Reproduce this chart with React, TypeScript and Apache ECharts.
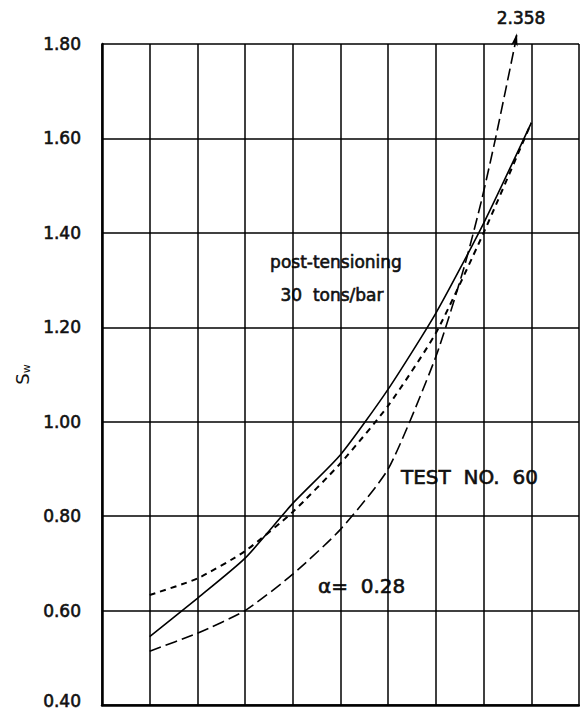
import React, { useEffect, useRef } from "react";
import * as echarts from "echarts";

const xPoints = [1, 2, 3, 4, 5, 6, 7, 8, 9];
const solidValues = [0.545, 0.626, 0.711, 0.827, 0.93, 1.069, 1.23, 1.42, 1.633];
const shortDashValues = [0.633, 0.668, 0.726, 0.809, 0.912, 1.034, 1.188, 1.4, 1.633];
const longDashX = [1, 2, 3, 4, 5, 6, 7, 7.6, 7.96, 8.26, 8.66, 8.7];
const longDashValues = [0.514, 0.552, 0.6, 0.677, 0.772, 0.9, 1.138, 1.33, 1.47, 1.605, 1.8, 1.823];
const yTicks = [0.4, 0.6, 0.8, 1.0, 1.2, 1.4, 1.6, 1.8];
const offChartValue = "2.358";

const FONT = "'DejaVu Sans', sans-serif";
const INK = "#111";

export default function App() {
  const ref = useRef<HTMLDivElement>(null);
  useEffect(() => {
    if (!ref.current) return;
    const chart = echarts.init(ref.current, null, { renderer: "svg" });
    const longData: any[] = longDashX.map((x, i) => [x, longDashValues[i]]);
    const last = longData.length - 1;
    longData[last] = {
      value: longData[last],
      symbol: "arrow",
      symbolSize: [5, 13],
      symbolRotate: -12,
    };
    const txt = (text: string, x: number, y: number, size: number, align = "center") => ({
      type: "text",
      x,
      y,
      style: {
        text,
        fontSize: size,
        fontFamily: FONT,
        fill: INK,
        stroke: INK,
        lineWidth: 0.6,
        align,
        verticalAlign: "middle",
      },
    });
    chart.setOption({
      animation: false,
      backgroundColor: "#ffffff",
      grid: { left: 102, top: 44, width: 477, height: 661 },
      xAxis: {
        type: "value",
        min: 0,
        max: 10,
        interval: 1,
        axisLine: { show: true, lineStyle: { color: "#000", width: 2.5 } },
        axisTick: { show: false },
        axisLabel: { show: false },
        splitLine: { show: true, lineStyle: { color: "#000", width: 1.5 } },
      },
      yAxis: {
        type: "value",
        min: yTicks[0],
        max: yTicks[yTicks.length - 1],
        interval: 0.2,
        axisLine: { show: true, lineStyle: { color: "#000", width: 2.5 } },
        axisTick: { show: false },
        axisLabel: {
          margin: 21,
          color: INK,
          fontSize: 17,
          fontFamily: FONT,
          textBorderColor: INK,
          textBorderWidth: 0.6,
          formatter: (v: number) =>
            Math.abs(v - yTicks[0]) < 1e-6 ? "{low|" + v.toFixed(2) + "}" : v.toFixed(2),
          rich: {
            low: {
              fontSize: 17,
              fontFamily: FONT,
              color: INK,
              textBorderColor: INK,
              textBorderWidth: 0.6,
              padding: [0, 0, 8, 0],
            },
          },
        },
        splitLine: { show: true, lineStyle: { color: "#000", width: 1.5 } },
        name: "{s|S}{w|w}",
        nameLocation: "middle",
        nameGap: 70,
        nameRotate: 90,
        nameTextStyle: {
          rich: {
            s: { fontSize: 18, fontFamily: FONT, color: INK },
            w: { fontSize: 11, fontFamily: FONT, color: INK, padding: [8, 0, 0, 0] },
          },
        },
      },
      series: [
        {
          type: "line",
          data: xPoints.map((x, i) => [x, solidValues[i]]),
          smooth: 0.2,
          symbol: "none",
          lineStyle: { color: "#000", width: 1.6, type: "solid" },
        },
        {
          type: "line",
          data: xPoints.map((x, i) => [x, shortDashValues[i]]),
          smooth: 0.2,
          symbol: "none",
          lineStyle: { color: "#000", width: 2, type: [6, 5] },
        },
        {
          type: "line",
          data: longData,
          smooth: 0.2,
          clip: false,
          symbol: "none",
          itemStyle: { color: "#000" },
          lineStyle: { color: "#000", width: 1.6, type: [12, 5] },
        },
      ],
      graphic: [
        txt(offChartValue, 521, 18, 17),
        txt("post-tensioning", 336, 262, 17),
        txt("30  tons/bar", 332, 295, 17),
        txt("TEST  NO.  60", 401, 477, 20, "left"),
        txt("α=  0.28", 318, 586, 20, "left"),
      ],
    });
    return () => chart.dispose();
  }, []);
  return (
    <div
      ref={ref}
      style={{ position: "fixed", left: 0, top: 0, width: 580, height: 713, background: "#fff" }}
    />
  );
}
